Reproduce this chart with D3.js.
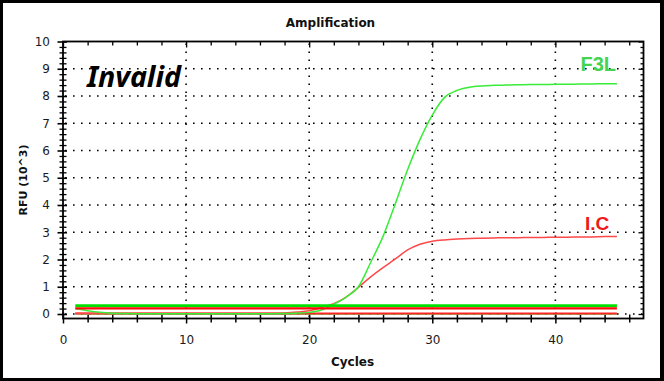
<!DOCTYPE html>
<html><head><meta charset="utf-8">
<script src="https://cdn.jsdelivr.net/npm/d3@7"></script>
<style>html,body{margin:0;padding:0;background:#fff;overflow:hidden}</style>
</head><body>
<svg id="c" width="664" height="381"></svg>
<script>
// ---- data ----
const cycles = [1,2,3,4,5,6,7,8,9,10,11,12,13,14,15,16,17,18,19,20,21,22,23,24,25,26,27,28,29,30,31,32,33,34,35,36,37,38,39,40,41,42,43,44,45];
const f3lPositive = [0.20,0.12,0.06,0.03,0.02,0.01,0.01,0.01,0.01,0.01,0.01,0.01,0.01,0.01,0.01,0.01,0.01,0.02,0.03,0.06,0.15,0.36,0.62,1.00,1.90,2.85,4.05,5.30,6.40,7.30,7.95,8.20,8.32,8.37,8.39,8.40,8.41,8.42,8.42,8.43,8.43,8.44,8.44,8.45,8.45];
const icPositive = [0.03,0.03,0.03,0.03,0.03,0.03,0.03,0.03,0.03,0.03,0.03,0.03,0.03,0.03,0.03,0.03,0.03,0.04,0.07,0.12,0.24,0.38,0.62,0.98,1.36,1.70,2.02,2.35,2.56,2.67,2.72,2.75,2.77,2.78,2.79,2.80,2.80,2.81,2.81,2.82,2.82,2.83,2.83,2.84,2.84];
const f3lNegative = [0.00,0.00,0.00,0.00,0.00,0.00,0.00,0.00,0.00,0.00,0.00,0.00,0.00,0.00,0.00,0.00,0.00,0.00,0.00,0.00,0.00,0.00,0.00,0.00,0.00,0.00,0.00,0.00,0.00,0.00,0.00,0.00,0.00,0.00,0.00,0.00,0.00,0.00,0.00,0.00,0.00,0.00,0.00,0.00,0.00];
const icNegative = [0.02,0.02,0.02,0.02,0.02,0.02,0.02,0.02,0.02,0.02,0.02,0.02,0.02,0.02,0.02,0.02,0.02,0.02,0.02,0.02,0.02,0.02,0.02,0.02,0.02,0.02,0.02,0.02,0.02,0.02,0.02,0.02,0.02,0.02,0.02,0.02,0.02,0.02,0.02,0.02,0.02,0.02,0.02,0.02,0.02];
const thresholds = [0.30, 0.21];          // F3L, I.C
const thresholdCycles = [1, 45];
const xTickLabels = [0,10,20,30,40];
const xMinorTicks = [0,2,4,6,8,10,12,14,16,18,20,22,24,26,28,30,32,34,36,38,40,42,44,46];
const yTickLabels = [0,1,2,3,4,5,6,7,8,9,10];
const titleText = "Amplification";
const xLabelText = "Cycles";
const yLabelText = "RFU (10^3)";
const stampText = "Invalid";
const seriesLabels = ["F3L", "I.C"];

// ---- layout ----
const svg = d3.select("#c");
const L = 63, R = 643.5, T = 41.5, B = 318.5;
const x = d3.scaleLinear().domain([0, 47.16]).range([L, R]);
const y = d3.scaleLinear().domain([-0.165, 10]).range([B, T]);
const yMinor = d3.range(0, 10.001, 0.2);

// border
svg.append("rect").attr("x",0).attr("y",0).attr("width",664).attr("height",381).attr("fill","#000");
svg.append("rect").attr("x",3).attr("y",3).attr("width",657).attr("height",375).attr("fill","#fff");

// grid
const grid = svg.append("g").attr("stroke","#000").attr("stroke-width",1.6).attr("stroke-dasharray","1.6 6.4");
grid.selectAll(".gx").data(xTickLabels.filter(d=>d>0)).join("line")
  .attr("x1",d=>x(d)).attr("x2",d=>x(d)).attr("y1",T+2).attr("y2",B);
grid.selectAll(".gy").data(yTickLabels.filter(d=>d<10)).join("line")
  .attr("y1",d=>y(d)).attr("y2",d=>y(d)).attr("x1",L+2).attr("x2",R);

// axes via d3
const fontTick = "DejaVu Sans";
const ax = svg.append("g").attr("transform",`translate(0,${B})`)
  .call(d3.axisBottom(x).tickValues(xMinorTicks).tickSize(4).tickSizeInner(4).tickFormat(""));
ax.select(".domain").remove();
ax.selectAll(".tick line").attr("y1",-4).attr("y2",4).attr("stroke","#000").attr("stroke-width",1.5);
ax.selectAll(".tick").filter(d=>d%10===0).select("line").attr("y1",-6).attr("y2",5);
const axl = svg.append("g").attr("transform",`translate(0,${B})`)
  .call(d3.axisBottom(x).tickValues(xTickLabels).tickSize(0).tickPadding(17));
axl.select(".domain").remove();
axl.selectAll("text").attr("font-family",fontTick).attr("font-size",12).attr("fill","#1a1a22");

const ay = svg.append("g").attr("transform",`translate(${L},0)`)
  .call(d3.axisLeft(y).tickValues(yMinor).tickFormat(""));
ay.select(".domain").remove();
ay.selectAll(".tick line").attr("x1",-3.5).attr("x2",3.5).attr("stroke","#000").attr("stroke-width",1.3);
ay.selectAll(".tick").filter(d=>Math.abs(d-Math.round(d))<1e-6).select("line").attr("x1",-5.5).attr("x2",4).attr("stroke-width",1.6);
const ayl = svg.append("g").attr("transform",`translate(${L},0)`)
  .call(d3.axisLeft(y).tickValues(yTickLabels).tickSize(0).tickPadding(13));
ayl.select(".domain").remove();
ayl.selectAll("text").attr("font-family",fontTick).attr("font-size",12).attr("fill","#1a1a22");

const at = svg.append("g").attr("transform",`translate(0,${T})`)
  .call(d3.axisBottom(x).tickValues(xMinorTicks).tickFormat("").tickSize(4));
at.select(".domain").remove();
at.selectAll(".tick line").attr("stroke","#000").attr("stroke-width",1.3);
at.selectAll(".tick").filter(d=>d%10===0).select("line").attr("y2",6);

const ar = svg.append("g").attr("transform",`translate(${R},0)`)
  .call(d3.axisLeft(y).tickValues(yMinor).tickFormat("").tickSize(3));
ar.select(".domain").remove();
ar.selectAll(".tick line").attr("stroke","#000").attr("stroke-width",1.3);
ar.selectAll(".tick").filter(d=>Math.abs(d-Math.round(d))<1e-6).select("line").attr("x2",-5);

// frame
svg.append("rect").attr("x",L).attr("y",T).attr("width",R-L).attr("height",B-T)
  .attr("fill","none").attr("stroke","#000").attr("stroke-width",1.8);

// lines
const line = d3.line().x((d,i)=>x(cycles[i])).y(d=>y(d)).curve(d3.curveMonotoneX);
const plot = svg.append("g");
plot.append("path").datum(f3lNegative).attr("d",line).attr("fill","none").attr("stroke","#5be05b").attr("stroke-width",1.6);
plot.append("path").datum(icNegative).attr("d",line).attr("fill","none").attr("stroke","#ff2424").attr("stroke-width",2);
plot.append("path").datum(icPositive).attr("d",line).attr("fill","none").attr("stroke","#ff4848").attr("stroke-width",1.5);
plot.append("path").datum(f3lPositive).attr("d",line).attr("fill","none").attr("stroke","#38ec38").attr("stroke-width",1.5);
const thrColors = ["#00e000","#ff0a0a"], thrWidths = [3,2.2];
thresholds.forEach((t,i)=>{
  plot.append("line").attr("x1",x(thresholdCycles[0])).attr("x2",x(thresholdCycles[1]))
    .attr("y1",y(t)).attr("y2",y(t)).attr("stroke",thrColors[i]).attr("stroke-width",thrWidths[i]);
});

// texts
svg.append("text").attr("x",330.5).attr("y",26.5).attr("text-anchor","middle")
  .attr("font-family","DejaVu Sans").attr("font-weight","bold").attr("font-size",12).attr("fill","#111")
  .text(titleText);
svg.append("text").attr("x",352.5).attr("y",366).attr("text-anchor","middle")
  .attr("font-family","DejaVu Sans").attr("font-weight","bold").attr("font-size",12).attr("fill","#111")
  .text(xLabelText);
svg.append("text").attr("transform","translate(26.5,180) rotate(-90)").attr("text-anchor","middle")
  .attr("font-family","DejaVu Sans").attr("font-weight","bold").attr("font-size",11).attr("fill","#111")
  .text(yLabelText);
svg.append("text").attr("x",87).attr("y",86.5)
  .attr("font-family","Noto Sans").attr("font-weight","bold").attr("font-style","italic").attr("font-size",29)
  .attr("textLength",94).attr("lengthAdjust","spacingAndGlyphs").attr("fill","#000")
  .text(stampText);
svg.append("text").attr("x",580.5).attr("y",70.7)
  .attr("font-family","Liberation Sans").attr("font-weight","bold").attr("font-size",20).attr("fill","#45d452")
  .text(seriesLabels[0]);
svg.append("text").attr("x",585).attr("y",230)
  .attr("font-family","Liberation Sans").attr("font-weight","bold").attr("font-size",19).attr("fill","#f01818")
  .text(seriesLabels[1]);
</script>
</body></html>
